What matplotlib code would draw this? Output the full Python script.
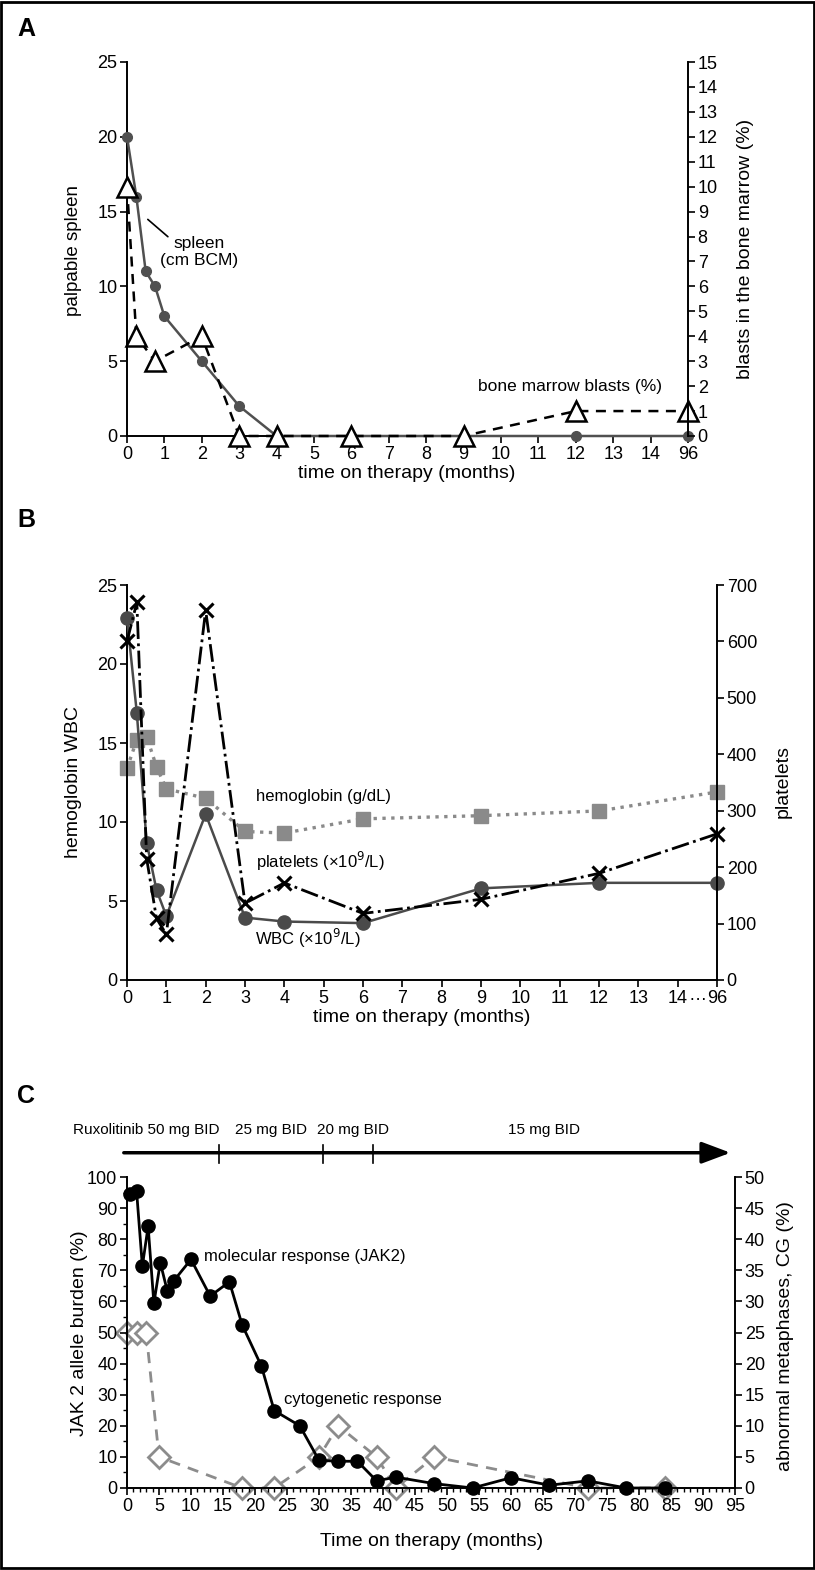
import numpy as np
import matplotlib
matplotlib.use('Agg')
import matplotlib.pyplot as plt
from matplotlib.ticker import MultipleLocator
from matplotlib.patches import Rectangle

plt.rcParams['font.family'] = ['Liberation Sans', 'DejaVu Sans']

# ---- panel A data (months, 96 shown after 14 on a broken axis)
a_tick_labels = ['0', '1', '2', '3', '4', '5', '6', '7', '8', '9', '10', '11', '12', '13', '14', '96']
spleen_months = [0, 0.25, 0.5, 0.75, 1, 2, 3, 4, 6, 9, 12, 96]
spleen_cm = [20, 16, 11, 10, 8, 5, 2, 0, 0, 0, 0, 0]
blast_months = [0, 0.25, 0.75, 2, 3, 4, 6, 9, 12, 96]
blast_pct = [10, 4, 3, 4, 0, 0, 0, 0, 1, 1]

# ---- panel B data
b_tick_labels = ['0', '1', '2', '3', '4', '5', '6', '7', '8', '9', '10', '11', '12', '13', '14', '96']
b_months = [0, 0.25, 0.5, 0.75, 1, 2, 3, 4, 6, 9, 12, 96]
wbc = [22.9, 16.9, 8.7, 5.7, 4.05, 10.5, 3.95, 3.7, 3.6, 5.8, 6.15, 6.15]
hemoglobin = [13.4, 15.2, 15.4, 13.5, 12.1, 11.5, 9.4, 9.3, 10.2, 10.4, 10.7, 11.9]
platelets = [600, 669, 215, 109, 81, 655, 136, 172, 118, 143, 189, 259]

# ---- panel C data
jak2_months = [0.5, 1.5, 2.4, 3.3, 4.2, 5.2, 6.3, 7.3, 10, 13, 16, 18, 21, 23, 27, 30, 33, 36,
               39, 42, 48, 54, 60, 66, 72, 78, 84]
jak2_pct = [94.6, 95.4, 71.4, 84.1, 59.4, 72.5, 63.3, 66.6, 73.5, 61.7, 66.3, 52.4, 39.2, 24.9,
            20, 8.9, 8.6, 8.6, 2.3, 3.5, 1.4, 0, 3.3, 0.9, 2.3, 0, 0]
cg_months = [0, 1.5, 3, 5, 18, 23, 30, 33, 39, 42, 48, 72, 84]
cg_pct = [25, 25, 25, 5, 0, 0, 5, 10, 5, 0, 5, 0, 0]
dose_labels = ['Ruxolitinib 50 mg BID', '25 mg BID', '20 mg BID', '15 mg BID']
dose_label_months = [3.0, 22.5, 35.3, 65.2]
dose_change_months = [14.3, 30.6, 38.4]


def pos(months):
    # broken time axis: 0..14 linear, then 96 at slot 15
    return [m if m <= 14 else 15 for m in months]


W, H = 815, 1570
fig = plt.figure(figsize=(W / 100, H / 100), dpi=100)


def box(l, t, r, b):
    return [l / W, 1 - b / H, (r - l) / W, (b - t) / H]


def ftext(x, y, s, **kw):
    fig.text(x / W, 1 - y / H, s, **kw)


TICK = 13
LAB = 14
NOTE = 12


def style(ax, right=False):
    ax.spines['top'].set_visible(False)
    if right:
        ax.spines['left'].set_visible(False)
        ax.spines['bottom'].set_visible(False)
        ax.spines['right'].set_linewidth(1.4)
    else:
        ax.spines['right'].set_visible(False)
        ax.spines['left'].set_linewidth(1.4)
        ax.spines['bottom'].set_linewidth(1.4)
    ax.tick_params(direction='out', length=5, width=1.2, labelsize=TICK, pad=2)
    ax.tick_params(which='minor', direction='out', length=3, width=1.0)


# ================= A
axA = fig.add_axes(box(127, 62, 688, 436))
axA2 = axA.twinx()
axA.set_xlim(0, 15)
axA.set_ylim(0, 25)
axA2.set_ylim(0, 15)
axA.set_xticks(range(16))
axA.set_xticklabels(a_tick_labels)
axA.set_yticks(range(0, 26, 5))
axA2.set_yticks(range(0, 16))
style(axA)
style(axA2, right=True)
axA.plot(pos(spleen_months), spleen_cm, '-', color='#505050', lw=1.8, marker='o', ms=7,
         mfc='#505050', mec='#505050', clip_on=False, zorder=3)
axA2.plot(pos(blast_months), blast_pct, '--', color='black', lw=1.8, dashes=(4, 3), marker='^',
          ms=15, mfc='white', mec='black', mew=1.8, clip_on=False, zorder=2)
axA.annotate('', xy=(0.5, 14.6), xytext=(1.15, 13.2),
             arrowprops=dict(arrowstyle='-', color='black', lw=1.2))
axA.text(1.94, 12.3, 'spleen\n(cm BCM)', ha='center', va='center', fontsize=12.5, linespacing=1.1)
axA.text(11.85, 3.3, 'bone marrow blasts (%)', ha='center', va='center', fontsize=12.5)
ftext(74, 250, 'palpable spleen', rotation=90, ha='center', va='center', fontsize=13.5)
ftext(745, 249, 'blasts in the bone marrow (%)', rotation=90, ha='center', va='center', fontsize=LAB)
ftext(407, 474, 'time on therapy (months)', ha='center', va='center', fontsize=LAB)
ftext(17, 29, 'A', fontsize=18, fontweight='bold', va='center')

# ================= B
axB = fig.add_axes(box(127, 585, 717, 980))
axB2 = axB.twinx()
axB.set_xlim(0, 15)
axB.set_ylim(0, 25)
axB2.set_ylim(0, 700)
axB.set_xticks(range(16))
axB.set_xticklabels(b_tick_labels)
axB.set_yticks(range(0, 26, 5))
axB2.set_yticks(range(0, 701, 100))
style(axB)
style(axB2, right=True)
axB.plot(pos(b_months), hemoglobin, ':', color='#8a8a8a', lw=2.4, marker='s', ms=9.5,
         mfc='#8a8a8a', mec='#8a8a8a', clip_on=False, zorder=2)
axB.plot(pos(b_months), wbc, '-', color='#4a4a4a', lw=1.8, marker='o', ms=9.5,
         mfc='#4a4a4a', mec='#4a4a4a', clip_on=False, zorder=3)
axB2.plot(pos(b_months), platelets, '-.', color='black', lw=2, marker='x', ms=10, mew=2.2,
          clip_on=False, zorder=4)
# "14…96" break marker between the last two ticks, level with the tick labels
axB.text(14.5, -0.45, '…', ha='center', va='top', fontsize=TICK)
axB.text(3.28, 11.6, 'hemoglobin (g/dL)', ha='left', va='center', fontsize=NOTE)
axB.text(3.28, 7.5, 'platelets (×10$^{9}$/L)', ha='left', va='center', fontsize=NOTE)
axB.text(3.25, 2.6, 'WBC (×10$^{9}$/L)', ha='left', va='center', fontsize=NOTE)
ftext(74, 782, 'hemoglobin WBC', rotation=90, ha='center', va='center', fontsize=LAB)
ftext(783, 782, 'platelets', rotation=90, ha='center', va='center', fontsize=LAB)
ftext(422, 1018, 'time on therapy (months)', ha='center', va='center', fontsize=LAB)
ftext(17, 520, 'B', fontsize=18, fontweight='bold', va='center')

# ================= C
axC = fig.add_axes(box(127, 1177, 735, 1488))
axC2 = axC.twinx()
axC.set_xlim(0, 95)
axC.set_ylim(0, 100)
axC2.set_ylim(0, 50)
axC.xaxis.set_major_locator(MultipleLocator(5))
axC.xaxis.set_minor_locator(MultipleLocator(1))
axC.yaxis.set_major_locator(MultipleLocator(10))
axC.yaxis.set_minor_locator(MultipleLocator(5))
axC2.yaxis.set_major_locator(MultipleLocator(5))
style(axC)
style(axC2, right=True)
axC2.plot(cg_months, cg_pct, '--', color='#8c8c8c', lw=2, dashes=(4, 3), marker='D', ms=11,
          mfc='white', mec='#8c8c8c', mew=2, clip_on=False, zorder=2)
axC.plot(jak2_months, jak2_pct, '-', color='black', lw=2, marker='o', ms=9.5,
         clip_on=False, zorder=3)
axC.set_zorder(axC2.get_zorder() + 1)
axC.patch.set_visible(False)
axC.text(12.0, 74.3, 'molecular response (JAK2)', ha='left', va='center', fontsize=NOTE)
axC.text(24.5, 28.5, 'cytogenetic response', ha='left', va='center', fontsize=NOTE)

# dosing timeline above panel C
axC.annotate('', xy=(94.3, 107.8), xytext=(-0.5, 107.8), annotation_clip=False,
             arrowprops=dict(arrowstyle='-|>,head_length=0.8,head_width=0.3', lw=2.5,
                             color='black', mutation_scale=22, shrinkA=0, shrinkB=0))
for m in dose_change_months:
    axC.plot([m, m], [104.5, 110.3], color='black', lw=1.2, clip_on=False)
for lab, m in zip(dose_labels, dose_label_months):
    axC.text(m, 115.2, lab, ha='center', va='center', fontsize=11, clip_on=False)

ftext(80, 1333, 'JAK 2 allele burden (%)', rotation=90, ha='center', va='center', fontsize=LAB)
ftext(786, 1336, 'abnormal metaphases, CG (%)', rotation=90, ha='center', va='center', fontsize=LAB)
ftext(432, 1542, 'Time on therapy (months)', ha='center', va='center', fontsize=LAB)
ftext(17, 1096, 'C', fontsize=18, fontweight='bold', va='center')

# outer frame
fig.patches.append(Rectangle((0.001, 0.001), 0.998, 0.998, transform=fig.transFigure,
                             fill=False, edgecolor='black', lw=2))

fig.savefig('out.png', dpi=100)
